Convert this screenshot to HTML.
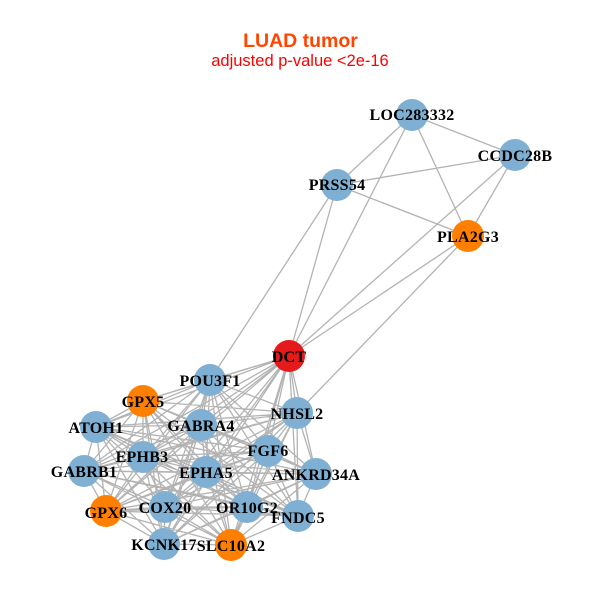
<!DOCTYPE html>
<html><head><meta charset="utf-8"><style>
html,body{margin:0;padding:0;background:#fff}
svg{display:block}
.l{font-family:"Liberation Serif",serif;font-weight:bold;font-size:16px;letter-spacing:.25px;text-anchor:middle;fill:#000}
</style></head><body>
<svg width="600" height="600" viewBox="0 0 600 600" xmlns="http://www.w3.org/2000/svg">
<rect width="600" height="600" fill="#fff"/>
<text x="300.500" y="47" text-anchor="middle" font-family="'Liberation Sans',sans-serif" font-weight="bold" font-size="19.500" fill="#FF4500">LUAD tumor</text>
<text x="300" y="66" text-anchor="middle" font-family="'Liberation Sans',sans-serif" font-size="16.500" fill="#FF0000">adjusted p-value &lt;2e-16</text>
<path fill="none" stroke="#b3b3b3" stroke-width="1.300" d="
M412 115 515 155 M412 115 337 185 M412 115 468 236 M412 115 289 356
M515 155 337 185 M515 155 468 236 M515 155 289 356
M337 185 468 236 M337 185 289 356 M337 185 210 380
M468 236 289 356 M468 236 297 413
M289 356 210 380 M289 356 143 401 M289 356 297 413 M289 356 96 427 M289 356 201 425 M289 356 143 457 M289 356 268 451 M289 356 84 471 M289 356 206 472 M289 356 316 474 M289 356 106 511 M289 356 165 507 M289 356 247 507 M289 356 298 516 M289 356 164 544 M289 356 231 545
M210 380 143 401 M210 380 297 413 M210 380 96 427 M210 380 201 425 M210 380 143 457 M210 380 268 451 M210 380 84 471 M210 380 206 472 M210 380 316 474 M210 380 106 511 M210 380 165 507 M210 380 247 507 M210 380 298 516 M210 380 164 544 M210 380 231 545
M143 401 297 413 M143 401 96 427 M143 401 201 425 M143 401 143 457 M143 401 268 451 M143 401 84 471 M143 401 206 472 M143 401 316 474 M143 401 106 511 M143 401 165 507 M143 401 247 507 M143 401 298 516 M143 401 164 544 M143 401 231 545
M297 413 96 427 M297 413 201 425 M297 413 143 457 M297 413 268 451 M297 413 84 471 M297 413 206 472 M297 413 316 474 M297 413 106 511 M297 413 165 507 M297 413 247 507 M297 413 298 516 M297 413 164 544 M297 413 231 545
M96 427 201 425 M96 427 143 457 M96 427 268 451 M96 427 84 471 M96 427 206 472 M96 427 316 474 M96 427 106 511 M96 427 165 507 M96 427 247 507 M96 427 298 516 M96 427 164 544 M96 427 231 545
M201 425 143 457 M201 425 268 451 M201 425 84 471 M201 425 206 472 M201 425 316 474 M201 425 106 511 M201 425 165 507 M201 425 247 507 M201 425 298 516 M201 425 164 544 M201 425 231 545
M143 457 268 451 M143 457 84 471 M143 457 206 472 M143 457 316 474 M143 457 106 511 M143 457 165 507 M143 457 247 507 M143 457 298 516 M143 457 164 544 M143 457 231 545
M268 451 84 471 M268 451 206 472 M268 451 316 474 M268 451 106 511 M268 451 165 507 M268 451 247 507 M268 451 298 516 M268 451 164 544 M268 451 231 545
M84 471 206 472 M84 471 316 474 M84 471 106 511 M84 471 165 507 M84 471 247 507 M84 471 298 516 M84 471 164 544 M84 471 231 545
M206 472 316 474 M206 472 106 511 M206 472 165 507 M206 472 247 507 M206 472 298 516 M206 472 164 544 M206 472 231 545
M316 474 106 511 M316 474 165 507 M316 474 247 507 M316 474 298 516 M316 474 164 544 M316 474 231 545
M106 511 165 507 M106 511 247 507 M106 511 298 516 M106 511 164 544 M106 511 231 545
M165 507 247 507 M165 507 298 516 M165 507 164 544 M165 507 231 545
M247 507 298 516 M247 507 164 544 M247 507 231 545
M298 516 231 545
M164 544 231 545"/>
<g fill="#7FB0D3">
<circle cx="412" cy="115" r="16"/><circle cx="515" cy="155" r="16"/><circle cx="337" cy="185" r="16"/>
<circle cx="210" cy="380" r="16"/><circle cx="297" cy="413" r="16"/><circle cx="96" cy="427" r="16"/>
<circle cx="201" cy="425" r="16"/><circle cx="143" cy="457" r="16"/><circle cx="268" cy="451" r="16"/>
<circle cx="84" cy="471" r="16"/><circle cx="206" cy="472" r="16"/><circle cx="316" cy="474" r="16"/>
<circle cx="165" cy="507" r="16"/><circle cx="247" cy="507" r="16"/><circle cx="298" cy="516" r="16"/>
<circle cx="164" cy="544" r="16"/>
</g>
<g fill="#FF7F00">
<circle cx="468" cy="236" r="16"/><circle cx="143" cy="401" r="16"/><circle cx="106" cy="511" r="16"/><circle cx="231" cy="545" r="16"/>
</g>
<circle cx="289" cy="356" r="16" fill="#E41A1C"/>
<g class="l">
<text class="l" x="412" y="120">LOC283332</text>
<text class="l" x="515" y="161">CCDC28B</text>
<text class="l" x="337" y="190">PRSS54</text>
<text class="l" x="468" y="242">PLA2G3</text>
<text class="l" x="289" y="362">DCT</text>
<text class="l" x="210" y="386">POU3F1</text>
<text class="l" x="143" y="407">GPX5</text>
<text class="l" x="297" y="419">NHSL2</text>
<text class="l" x="96" y="433">ATOH1</text>
<text class="l" x="201" y="431">GABRA4</text>
<text class="l" x="142" y="462">EPHB3</text>
<text class="l" x="268" y="456">FGF6</text>
<text class="l" x="84" y="477">GABRB1</text>
<text class="l" x="206" y="478">EPHA5</text>
<text class="l" x="316" y="480">ANKRD34A</text>
<text class="l" x="106" y="518">GPX6</text>
<text class="l" x="165" y="513">COX20</text>
<text class="l" x="247" y="513">OR10G2</text>
<text class="l" x="298" y="523">FNDC5</text>
<text class="l" x="164" y="550">KCNK17</text>
<text class="l" x="231" y="551">SLC10A2</text>
</g>
</svg>
</body></html>
